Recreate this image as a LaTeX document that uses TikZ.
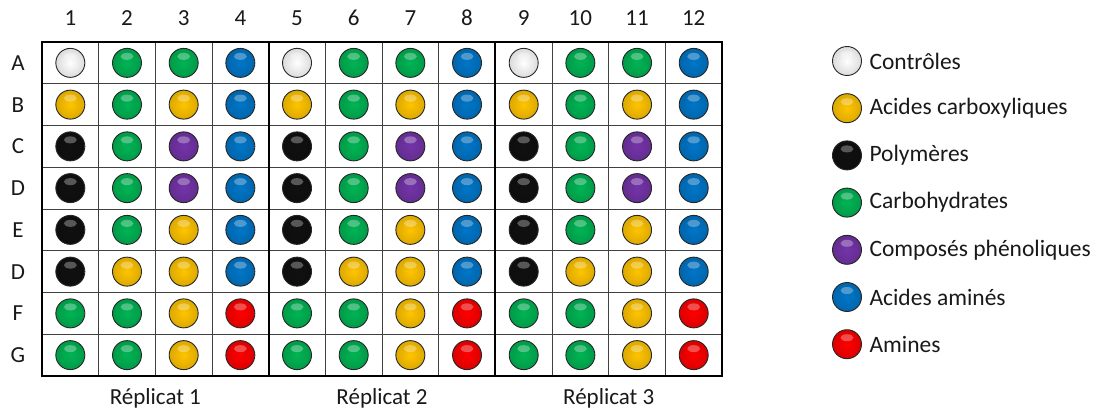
\documentclass[tikz,border=0pt]{standalone}
\usepackage{fontspec}
\setmainfont{Carlito}
\definecolor{cW}{HTML}{FFFFFF}
\definecolor{cY}{HTML}{FFC400}
\definecolor{cK}{HTML}{101010}
\definecolor{cG}{HTML}{00B454}
\definecolor{cP}{HTML}{7434A8}
\definecolor{cB}{HTML}{0076C8}
\definecolor{cR}{HTML}{FF0000}
\begin{document}
\begin{tikzpicture}[x=1pt,y=-1pt,
  well/.style={circle, minimum size=29pt, inner sep=0pt, draw=black!85, line width=0.9pt,
    shading=radial, inner color=#1, outer color=#1!86!black,
    path picture={\fill[white,opacity=0.3] ([yshift=6.5pt]path picture bounding box.center) ellipse (6.5pt and 3.5pt);}},
  lbl/.style={font=\fontsize{23}{27}\selectfont, text=black!90},
  leg/.style={font=\fontsize{23.5}{27}\selectfont, text=black!90, anchor=west},
  thin grid/.style={line width=0.9pt, draw=black!75},
  thick box/.style={line width=2.2pt, draw=black}]
\useasboundingbox (0,0) rectangle (1108,412);
\def\cw{56.67}
\def\rh{41.75}
% grid
\foreach \i in {1,...,11} \draw[thin grid] (42+\i*\cw,42) -- (42+\i*\cw,376);
\foreach \j in {1,...,7} \draw[thin grid] (42,42+\j*\rh) -- (722,42+\j*\rh);
\foreach \k in {0,1,2} \draw[thick box] (42+\k*4*\cw,42) rectangle (42+\k*4*\cw+4*\cw,376);
% column labels
\foreach \i in {1,...,12} \node[lbl] (col\i) at (42+\i*\cw-\cw/2,18) {\i};
% row labels
\foreach \l [count=\j] in {A,B,C,D,E,D,F,G} \node[lbl] (row\j) at (18,42+\j*\rh-\rh/2) {\l};
% wells
\foreach \row [count=\j] in {{cW,cG,cG,cB},{cY,cG,cY,cB},{cK,cG,cP,cB},{cK,cG,cP,cB},{cK,cG,cY,cB},{cK,cY,cY,cB},{cG,cG,cY,cR},{cG,cG,cY,cR}}{
  \foreach \c [count=\i] in \row {
    \foreach \k in {0,1,2}{
      \pgfmathtruncatemacro{\col}{\i+4*\k}
      \node[well=\c] (w\j-\col) at (42+\col*\cw-\cw/2,42+\j*\rh-\rh/2) {};
    }
  }
}
% replicate labels
\foreach \k in {1,2,3} \node[lbl] (rep\k) at (42+\k*4*\cw-2*\cw,398) {Réplicat \k};
% legend
\foreach \c/\t [count=\n] in {cW/Contrôles,cY/Acides carboxyliques,cK/Polymères,cG/Carbohydrates,cP/Composés phénoliques,cB/Acides aminés,cR/Amines}{
  \node[well=\c] (lc\n) at (847,61+\n*47.2-47.2) {};
  \node[leg] (lt\n) at (866,61+\n*47.2-47.2) {\t};
}
\end{tikzpicture}
\end{document}
